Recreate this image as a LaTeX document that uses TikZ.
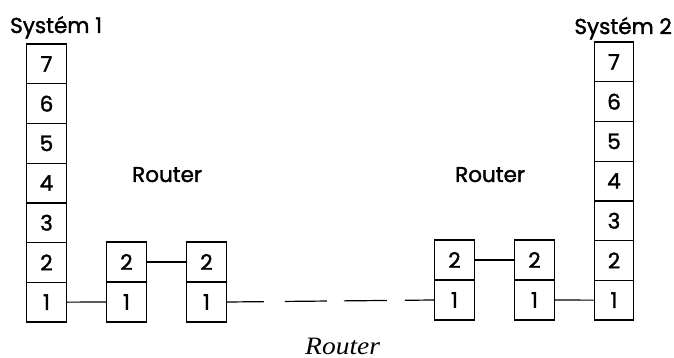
\documentclass[tikz,border=0pt]{standalone}
\usepackage{fontspec}
\setmainfont{Poppins}[FakeBold=1.6]
\newfontfamily\capfont{Liberation Serif}
\begin{document}
\begin{tikzpicture}[x=1pt,y=-1pt,
  cell/.style={draw,line width=1.2pt,minimum width=39.5pt,minimum height=39.7pt,
    inner sep=0pt,font=\fontsize{21.5}{21.5}\selectfont},
  link/.style={line width=1.2pt},
  lbl/.style={inner sep=0pt,font=\fontsize{21.5}{21.5}\selectfont}]
\useasboundingbox (0,0) rectangle (674,358);
% end system stacks, layers 1 (bottom) to 7 (top)
\foreach \i in {1,...,7}{
  \node[cell] (L\i) at (46.5,{322-(\i-0.5)*39.7}) {\i};
  \node[cell] (R\i) at (614,{320-(\i-0.5)*39.7}) {\i};
}
% routers: two layers each
\foreach \n/\x/\y in {A/126.5/322,B/206.5/322,C/454.5/320,D/534.5/320}{
  \node[cell,minimum height=40pt] (\n1) at (\x,\y-20) {1};
  \node[cell,minimum height=40pt] (\n2) at (\x,\y-60) {2};
}
% links
\draw[link] (L1.east) -- (A1.west);
\draw[link] (A2.east) -- (B2.west);
\draw[link,dash pattern=on 37pt off 21pt on 42pt off 17pt on 43pt off 18pt on 40pt off 100pt]
  (B1.east) -- (C1.west);
\draw[link] (C2.east) -- (D2.west);
\draw[link] (D1.east) -- (R1.west);
% labels
\node[lbl,anchor=base west] (s1) at (10,33) {Systém 1};
\node[lbl,anchor=base east] (s2) at (672,34) {Systém 2};
\node[lbl,anchor=base west] (r1) at (132,182) {Router};
\node[lbl,anchor=base west] (r2) at (455,182) {Router};
\node[inner sep=0pt,anchor=base west,xscale=1.1,font=\capfont\itshape\fontsize{25}{25}\selectfont] (r3) at (305,354) {Router};
\end{tikzpicture}
\end{document}
